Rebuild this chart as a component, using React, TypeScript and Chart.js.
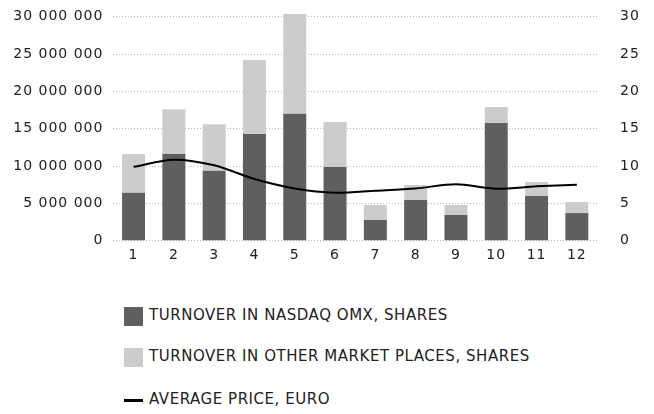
import React, { useEffect, useRef } from "react";
import { Chart, registerables } from "chart.js";
Chart.register(...registerables);

const months = ["1", "2", "3", "4", "5", "6", "7", "8", "9", "10", "11", "12"];
const nasdaqShares = [6.43e6, 11.6e6, 9.37e6, 14.3e6, 17.0e6, 9.87e6, 2.77e6, 5.45e6, 3.44e6, 15.75e6, 5.98e6, 3.7e6];
const otherShares = [5.17e6, 6.0e6, 6.23e6, 9.9e6, 13.35e6, 6.03e6, 2.01e6, 2.01e6, 1.34e6, 2.15e6, 1.88e6, 1.48e6];
const avgPrice = [9.9, 10.85, 10.1, 8.26, 7.0, 6.43, 6.7, 7.0, 7.55, 6.96, 7.28, 7.5];
const legendLabels = [
  "TURNOVER IN NASDAQ OMX, SHARES",
  "TURNOVER IN OTHER MARKET PLACES, SHARES",
  "AVERAGE PRICE, EURO",
];

const DARK = "#5f5f5d";
const LIGHT = "#cccccc";
const TEXT = "#222222";
const FONT = "'DejaVu Sans', sans-serif";

const fmt = (v: number) => String(Math.round(v)).replace(/\B(?=(\d{3})+(?!\d))/g, " ");

const spacingPlugin = {
  id: "letterSpacing",
  beforeDraw(chart: any) {
    try { chart.ctx.letterSpacing = "1px"; } catch (e) {}
  },
};

export default function App() {
  const ref = useRef<HTMLCanvasElement | null>(null);
  useEffect(() => {
    if (!ref.current) return;
    const tickFont = { family: FONT, size: 14 };
    const chart = new Chart(ref.current, {
      type: "bar",
      data: {
        labels: months,
        datasets: [
          { type: "bar", label: legendLabels[0], data: nasdaqShares, backgroundColor: DARK, yAxisID: "y", order: 1, barPercentage: 0.57, categoryPercentage: 1, clip: false },
          { type: "bar", label: legendLabels[1], data: otherShares, backgroundColor: LIGHT, yAxisID: "y", order: 1, barPercentage: 0.57, categoryPercentage: 1, clip: false },
          { type: "line", label: legendLabels[2], data: avgPrice, borderColor: "#000", borderWidth: 2, tension: 0.3, pointRadius: 0, yAxisID: "y1", order: 0 },
        ],
      } as any,
      options: {
        animation: false,
        responsive: true,
        maintainAspectRatio: false,
        layout: { padding: { top: 16.7, left: 0, right: 0, bottom: 0 } },
        plugins: { legend: { display: false }, tooltip: { enabled: false } },
        scales: {
          x: {
            stacked: true,
            grid: { display: false, drawTicks: false },
            border: { display: false },
            ticks: { font: tickFont, color: TEXT, padding: 6 },
            afterFit: (s: any) => { s.height = 29.3; },
          },
          y: {
            stacked: true,
            position: "left",
            min: 0,
            max: 30e6,
            ticks: { stepSize: 5e6, callback: (v: any) => fmt(Number(v)), font: tickFont, color: TEXT, padding: 3 },
            grid: { color: "#b8b8b8", lineWidth: 1, drawTicks: true, tickLength: 7, tickColor: "rgba(0,0,0,0)" },
            border: { display: false, dash: [1, 2] },
            afterFit: (s: any) => { s.width = 113.4; },
          },
          y1: {
            position: "right",
            min: 0,
            max: 30,
            ticks: { stepSize: 5, font: tickFont, color: TEXT, padding: 3 },
            grid: { display: false, drawTicks: true, tickLength: 20 },
            border: { display: false },
            afterFit: (s: any) => { s.width = 57; },
          },
        },
      } as any,
      plugins: [spacingPlugin],
    });
    return () => chart.destroy();
  }, []);

  const rowText: React.CSSProperties = {
    position: "absolute",
    left: 149,
    fontFamily: FONT,
    fontSize: 15,
    color: TEXT,
    whiteSpace: "nowrap",
    lineHeight: "19px",
    letterSpacing: "0.54px",
  };

  return (
    <div style={{ position: "absolute", left: 0, top: 0, width: 654, height: 414, background: "#fff" }}>
      <div style={{ position: "absolute", left: 0, top: 0, width: 654, height: 270 }}>
        <canvas ref={ref} />
      </div>
      <div style={{ position: "absolute", left: 124, top: 307, width: 19, height: 19, background: DARK }} />
      <div style={{ ...rowText, top: 306 }}>{legendLabels[0]}</div>
      <div style={{ position: "absolute", left: 124, top: 348, width: 19, height: 19, background: LIGHT }} />
      <div style={{ ...rowText, top: 347 }}>{legendLabels[1]}</div>
      <div style={{ position: "absolute", left: 124, top: 398.5, width: 19, height: 3.5, background: "#000" }} />
      <div style={{ ...rowText, top: 390 }}>{legendLabels[2]}</div>
    </div>
  );
}
